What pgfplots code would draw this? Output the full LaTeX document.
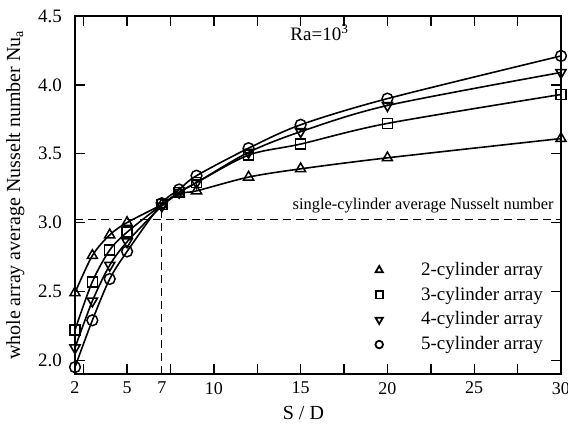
\documentclass[border=0pt]{standalone}
\usepackage{fontspec}
\setmainfont{Liberation Serif}
\usepackage{pgfplots}
\pgfplotsset{compat=1.18}

\begin{document}
\begin{tikzpicture}
\begin{axis}[
  name=ax,
  scale only axis,
  width=243pt, height=179pt,
  xmin=2, xmax=30,
  ymin=1.9, ymax=4.5,
  clip=false,
  axis line style={line width=0.8pt},
  tick style={black, line width=0.7pt},
  tick align=inside,
  xtick pos=both, ytick pos=both,
  xtick={2,5,7,10,15,20,25,30},
  minor xtick={2.5,5,7.5,10,12.5,15,17.5,20,22.5,25,27.5},
  ytick={2.0,2.5,3.0,3.5,4.0,4.5},
  minor ytick={2.0,2.5,3.0,3.5,4.0,4.5},
  major tick length=0pt,
  minor tick length=4.8pt,
  /pgf/number format/assume math mode=true,
  y tick label style={/pgf/number format/fixed, /pgf/number format/fixed zerofill, /pgf/number format/precision=1},
  xticklabel style={font=\fontsize{9}{10}\selectfont, yshift=-0.5pt},
  yticklabel style={font=\fontsize{9.5}{10}\selectfont, xshift=-3pt},
  xlabel={S / D},
  ylabel={whole array average Nusselt number Nu\textsubscript{a}},
  label style={font=\fontsize{10}{12}\selectfont},
  xlabel style={at={(axis description cs:0.47,-0.109)}, anchor=center},
  legend style={draw=none, fill=none, at={(rel axis cs:0.605,0.336)}, anchor=north west,
    font=\fontsize{9.5}{11}\selectfont, inner xsep=3pt, inner ysep=2pt, row sep=0.3pt,
    /tikz/every odd column/.append style={column sep=17pt}},
  legend cell align=left,
  every axis plot/.append style={black, line width=0.8pt, mark options={fill=white, solid, line width=0.75pt}},
]

% single-cylinder reference
\addplot[black, line width=0.6pt, dash pattern=on 4pt off 2.5pt, forget plot] coordinates {(2,3.02) (30,3.02)};
\addplot[black, line width=0.6pt, dash pattern=on 4pt off 2.5pt, forget plot] coordinates {(7,1.9) (7,3.13)};

% 2-cylinder
\addplot[smooth, mark=triangle, mark size=2.9pt, forget plot] coordinates {
(2,2.49)(3,2.76)(4,2.91)(5,3.00)(7,3.13)(8,3.21)(9,3.23)(12,3.33)(15,3.39)(20,3.47)(30,3.61)};
% 3-cylinder
\addplot[smooth, mark=square, mark size=2.5pt, forget plot] coordinates {
(2,2.22)(3,2.57)(4,2.80)(5,2.93)(7,3.13)(8,3.22)(9,3.29)(12,3.49)(15,3.57)(20,3.72)(30,3.93)};
% 4-cylinder
\addplot[smooth, mark=triangle, mark size=2.9pt, mark options={rotate=180}, forget plot] coordinates {
(2,2.09)(3,2.43)(4,2.69)(5,2.86)(7,3.12)(8,3.22)(9,3.29)(12,3.51)(15,3.66)(20,3.85)(30,4.09)};
% 5-cylinder
\addplot[smooth, mark=o, mark size=2.7pt, forget plot] coordinates {
(2,1.95)(3,2.29)(4,2.59)(5,2.79)(7,3.14)(8,3.24)(9,3.34)(12,3.54)(15,3.71)(20,3.90)(30,4.21)};

\addlegendimage{only marks, black, mark=triangle, mark size=2.1pt, mark options={line width=0.9pt}}
\addlegendentry{2-cylinder array}
\addlegendimage{only marks, black, mark=square, mark size=1.8pt, mark options={line width=0.9pt}}
\addlegendentry{3-cylinder array}
\addlegendimage{only marks, black, mark=triangle, mark size=2.1pt, mark options={rotate=180, line width=0.9pt}}
\addlegendentry{4-cylinder array}
\addlegendimage{only marks, black, mark=o, mark size=1.9pt, mark options={line width=0.9pt}}
\addlegendentry{5-cylinder array}

\node[anchor=east, font=\fontsize{8.2}{10}\selectfont, inner sep=0pt] at (axis cs:29.6,3.12) {single-cylinder average Nusselt number};
\node[font=\fontsize{9.5}{11}\selectfont, inner sep=0pt] at (axis cs:16.1,4.38) {Ra=10\textsuperscript{3}};
\end{axis}
\pgfresetboundingbox
\path ([shift={(-37.5pt,-25.5pt)}]ax.south west) rectangle ([shift={(3.5pt,8pt)}]ax.north east);
\end{tikzpicture}
\end{document}
